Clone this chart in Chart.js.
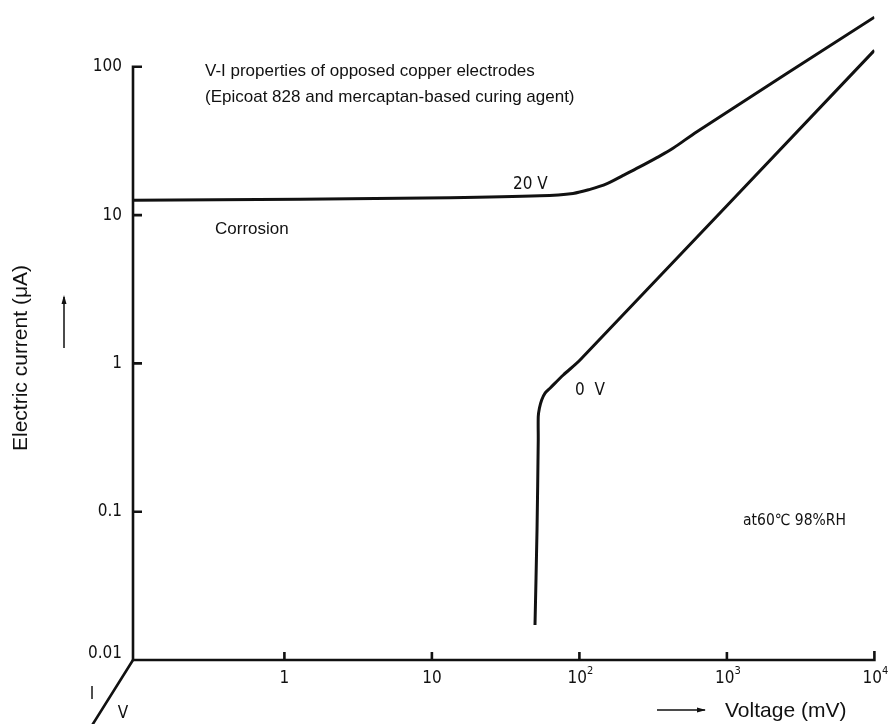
<!DOCTYPE html>
<html><head><meta charset="utf-8">
<script src="https://cdn.jsdelivr.net/npm/chart.js@4/dist/chart.umd.min.js"></script>
<style>html,body{margin:0;padding:0;background:#fff;} #wrap{width:893px;height:724px;position:relative;}</style>
</head><body><div id="wrap"><canvas id="c" width="893" height="724"></canvas></div>
<script>
// ---- data ----
const voltage20V = [0.094, 1.28, 13.3, 54, 90.5, 118, 154, 198, 258, 335, 431, 626, 10000];
const current20V = [12.6, 12.8, 13.1, 13.5, 14.0, 14.9, 16.3, 18.5, 21.2, 24.4, 28.2, 36.5, 216];
const voltage0V = [50, 51.6, 52.6, 52.6, 53.6, 55.5, 58.5, 63.2, 77.8, 101, 10000];
const current0V = [0.0172, 0.075, 0.304, 0.437, 0.50, 0.567, 0.631, 0.68, 0.835, 1.054, 129];
const yTickValues = [0.01, 0.1, 1, 10, 100];
const yTickLabels = ['0.01', '0.1', '1', '10', '100'];
const xTickValues = [1, 10, 100, 1000, 10000];
const xTickBase = ['1', '10', '10', '10', '10'];
const xTickExp = ['', '', '2', '3', '4'];
const titleLines = ['V-I properties of opposed copper electrodes', '(Epicoat 828 and mercaptan-based curing agent)'];

const pts = (xs, ys) => xs.map((v, i) => ({x: v, y: ys[i]}));
const SANS = '"Liberation Sans", Arial, sans-serif';
const NARROW = '"Liberation Sans Narrow", "DejaVu Sans Condensed", sans-serif';
const INK = '#111';

const deco = {
  id: 'deco',
  afterDatasetsDraw(chart) {
    const {ctx, scales: {x, y}} = chart;
    const X = v => x.getPixelForValue(v), Y = v => y.getPixelForValue(v);
    const x0 = x.left, y0 = Y(0.01), xr = X(10000), yt = Y(100);
    ctx.save();
    ctx.strokeStyle = INK; ctx.fillStyle = INK;
    ctx.lineWidth = 2.6; ctx.lineJoin = 'miter';
    // axes
    ctx.beginPath();
    ctx.moveTo(x0 + 9, yt); ctx.lineTo(x0, yt); ctx.lineTo(x0, y0); ctx.lineTo(xr, y0); ctx.lineTo(xr, y0 - 9);
    ctx.stroke();
    ctx.beginPath();
    yTickValues.forEach(v => { if (v > 0.01 && v < 100) { ctx.moveTo(x0, Y(v)); ctx.lineTo(x0 + 9, Y(v)); } });
    xTickValues.slice(0, 4).forEach(v => { ctx.moveTo(X(v), y0); ctx.lineTo(X(v), y0 - 8); });
    // third (diagonal) axis
    ctx.moveTo(x0, y0); ctx.lineTo(x0 - 42, y0 + 67);
    ctx.stroke();

    // y tick labels
    ctx.font = '17px ' + NARROW;
    ctx.textAlign = 'right'; ctx.textBaseline = 'middle';
    yTickValues.forEach((v, i) => {
      ctx.fillText(yTickLabels[i], x0 - 11, Y(v) + (v === 0.01 ? -6 : 0));
    });
    // x tick labels with exponents
    ctx.textBaseline = 'alphabetic';
    xTickValues.forEach((v, i) => {
      const px = X(v);
      ctx.font = '17px ' + NARROW;
      const wb = ctx.measureText(xTickBase[i]).width;
      let we = 0;
      if (xTickExp[i]) { ctx.font = '11px ' + NARROW; we = ctx.measureText(xTickExp[i]).width; }
      const left = px - (wb + we) / 2 + (xTickExp[i] ? 1 : 0);
      ctx.textAlign = 'left';
      ctx.font = '17px ' + NARROW;
      ctx.fillText(xTickBase[i], left, y0 + 23);
      if (xTickExp[i]) { ctx.font = '11px ' + NARROW; ctx.fillText(xTickExp[i], left + wb, y0 + 14); }
    });
    // I / V labels on diagonal axis
    ctx.font = '17px ' + NARROW; ctx.textAlign = 'center';
    ctx.fillText('I', x0 - 41, y0 + 39);
    ctx.fillText('V', x0 - 10, y0 + 58);

    // curve labels
    ctx.textAlign = 'left';
    ctx.font = '17px ' + NARROW;
    ctx.fillText('20 V', 513, 189);
    ctx.fillText('0  V', 575, 395);
    ctx.font = '15.5px ' + NARROW;
    ctx.fillText('at60\u2103 98%RH', 743, 525);

    // title & notes
    ctx.font = '17px ' + SANS;
    ctx.fillText(titleLines[0], 205, 76);
    ctx.fillText(titleLines[1], 205, 102);
    ctx.fillText('Corrosion', 215, 234);

    // axis titles
    ctx.font = '21px ' + SANS;
    ctx.fillText('Voltage (mV)', 725, 717);
    ctx.save();
    ctx.translate(27, 358); ctx.rotate(-Math.PI / 2);
    ctx.textAlign = 'center';
    ctx.fillText('Electric current (\u03bcA)', 0, 0);
    ctx.restore();

    // arrows
    ctx.lineWidth = 1.5;
    ctx.beginPath();
    ctx.moveTo(657, 710); ctx.lineTo(705, 710);
    ctx.moveTo(64, 348); ctx.lineTo(64, 297);
    ctx.stroke();
    ctx.beginPath();
    ctx.moveTo(706, 710); ctx.lineTo(697, 707.5); ctx.lineTo(697, 712.5); ctx.closePath();
    ctx.moveTo(64, 295); ctx.lineTo(61.5, 304); ctx.lineTo(66.5, 304); ctx.closePath();
    ctx.fill();
    ctx.restore();
  }
};

new Chart(document.getElementById('c'), {
  type: 'scatter',
  data: {
    datasets: [
      {label: '20 V', data: pts(voltage20V, current20V), showLine: true, borderColor: INK, borderWidth: 3, pointRadius: 0, tension: 0.35, fill: false},
      {label: '0 V', data: pts(voltage0V, current0V), showLine: true, borderColor: INK, borderWidth: 3, pointRadius: 0, tension: 0.25, fill: false}
    ]
  },
  options: {
    responsive: false,
    animation: false,
    devicePixelRatio: 1,
    layout: {padding: {left: 133, right: 18.6, top: 0, bottom: 64}},
    plugins: {legend: {display: false}, tooltip: {enabled: false}, title: {display: false}},
    scales: {
      x: {type: 'logarithmic', min: 0.0941, max: 10000, display: false},
      y: {type: 'logarithmic', min: 0.01, max: 282, display: false}
    }
  },
  plugins: [deco]
});
</script>
</body></html>
